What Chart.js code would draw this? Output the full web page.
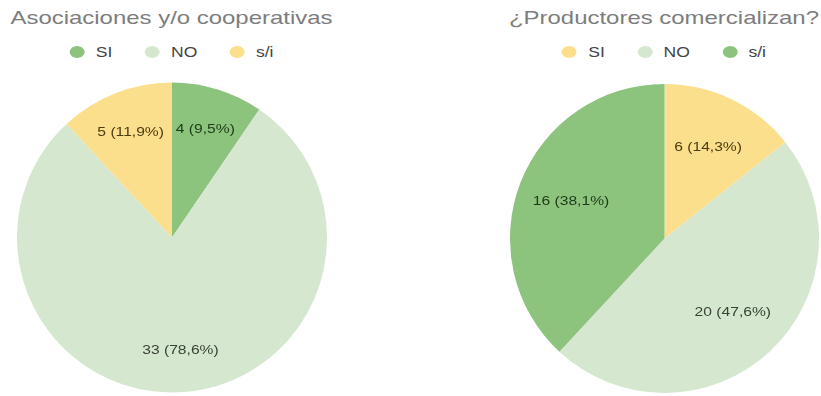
<!DOCTYPE html>
<html>
<head>
<meta charset="utf-8">
<script src="https://cdn.jsdelivr.net/npm/chart.js@4.4.0/dist/chart.umd.min.js"></script>
<style>
  body { margin: 0; background: #fff; width: 821px; height: 396px; position: relative; overflow: hidden;
         font-family: Arial, "Liberation Sans", sans-serif; }
  /* il riferimento ha il testo un po' allargato in orizzontale */
  .title { position: absolute; top: 6px; height: 24px; line-height: 24px; font-size: 19px; color: #7d7d7d;
           text-align: center; white-space: nowrap; transform: scaleX(1.26); transform-origin: center; }
  .legend { position: absolute; top: 44px; height: 16px; display: flex; justify-content: center; align-items: center;
            font-size: 14px; color: #444; transform: scaleX(1.25); transform-origin: center; }
  .legend span.item { display: flex; align-items: center; margin: 0 13px; }
  .legend span.dot { width: 12px; height: 12px; border-radius: 50%; margin-right: 9px; }
  .pie { position: absolute; }
</style>
</head>
<body>
<div class="title" style="left:0px;width:343px">Asociaciones y/o cooperativas</div>
<div class="legend" id="legendAsoc" style="left:0px;width:343px"></div>
<div class="pie" style="left:17px;top:82px;width:310px;height:311px"><canvas id="chartAsoc"></canvas></div>

<div class="title" style="left:500px;width:328px">¿Productores comercializan?</div>
<div class="legend" id="legendProd" style="left:500px;width:328px"></div>
<div class="pie" style="left:510px;top:84px;width:309px;height:309px"><canvas id="chartProd"></canvas></div>
<script>
// dati dei due grafici
const asocLabels = ['SI', 'NO', 's/i']
const asocValues = [4, 33, 5]
const prodLabels = ['SI', 'NO', 's/i']
const prodValues = [6, 20, 16]

// colori
const darkGreen = '#8cc47e'
const lightGreen = '#d5e8cf'
const yellow = '#fcdf8d'

// plugin per le etichette dentro le fette
const sliceLabels = {
  id: 'sliceLabels',
  afterDatasetsDraw(chart, args, opts) {
    const ctx = chart.ctx
    const ds = chart.data.datasets[0]
    const total = ds.data.reduce((a, b) => a + b, 0)
    const meta = chart.getDatasetMeta(0)
    meta.data.forEach((arc, i) => {
      const mid = (arc.startAngle + arc.endAngle) / 2
      const r = arc.outerRadius * opts.factor
      const x = arc.x + Math.cos(mid) * r
      const y = arc.y + Math.sin(mid) * r
      const pct = (ds.data[i] / total * 100).toFixed(1).replace('.', ',')
      ctx.save()
      ctx.translate(x, y)
      ctx.scale(1.25, 1)
      ctx.font = '12.5px Arial, "Liberation Sans", sans-serif'
      ctx.textAlign = 'center'
      ctx.textBaseline = 'middle'
      ctx.fillStyle = opts.textColors[i]
      ctx.fillText(ds.data[i] + ' (' + pct + '%)', 0, 0)
      ctx.restore()
    })
  }
}

// legenda html costruita dai dati del grafico
function buildLegend(chart, el) {
  const colors = chart.data.datasets[0].backgroundColor
  el.innerHTML = chart.data.labels.map((l, i) => `
    <span class="item"><span class="dot" style="background:${colors[i]}"></span>${l}</span>
  `).join('')
}

function makePie(id, legendId, labels, values, colors, textColors, factor) {
  const chart = new Chart(document.getElementById(id), {
    type: 'pie',
    data: {
      labels: labels,
      datasets: [{
        data: values,
        backgroundColor: colors,
        borderWidth: 0
      }]
    },
    options: {
      responsive: true,
      maintainAspectRatio: false,
      animation: false,
      events: [],
      plugins: {
        title: { display: false },
        legend: { display: false },
        tooltip: { enabled: false },
        sliceLabels: { factor: factor, textColors: textColors }
      }
    },
    plugins: [sliceLabels]
  })
  buildLegend(chart, document.getElementById(legendId))
  return chart
}

makePie('chartAsoc', 'legendAsoc', asocLabels, asocValues,
  [darkGreen, lightGreen, yellow], ['#1f3a18', '#3a4236', '#4a3c10'], 0.73)
makePie('chartProd', 'legendProd', prodLabels, prodValues,
  [yellow, lightGreen, darkGreen], ['#4a3c10', '#3a4236', '#1f3a18'], 0.65)
</script>
</body>
</html>
